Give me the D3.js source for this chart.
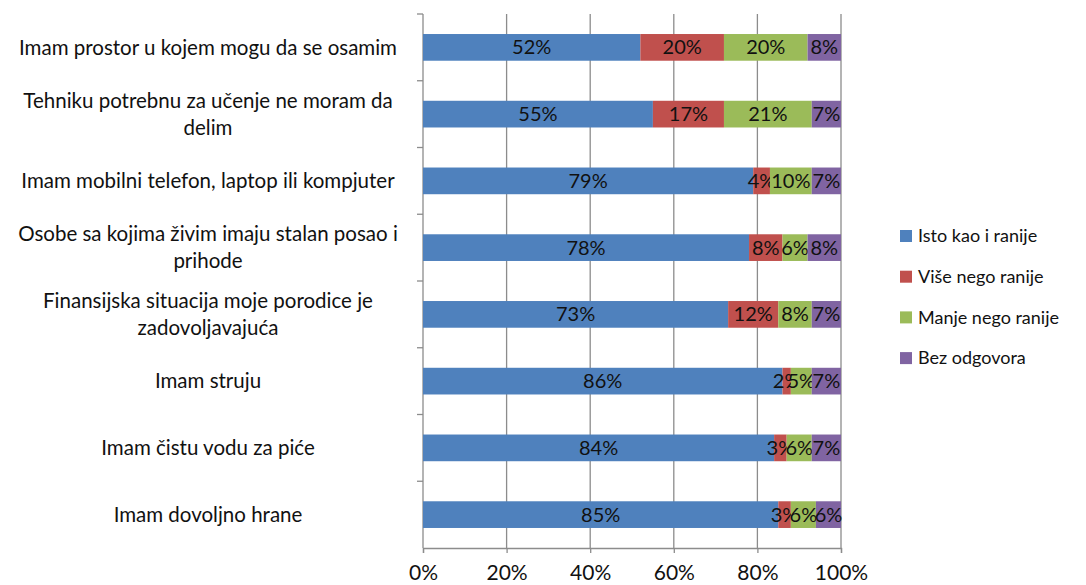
<!DOCTYPE html>
<html>
  <head>
    <meta charset="utf-8">
    <title>Stacked bars</title>
    <script src="https://d3js.org/d3.v7.min.js"></script>
    <style>
      body { margin: 0; background: #fff; }
      text { font-family: Lato, "Open Sans", sans-serif; fill: #111; }
    </style>
  </head>
  <body>
    <div id="chart"></div>
    <script>
      // chart data
      const categories = [
        "Imam prostor u kojem mogu da se osamim",
        "Tehniku potrebnu za učenje ne moram da delim",
        "Imam mobilni telefon, laptop ili kompjuter",
        "Osobe sa kojima živim imaju stalan posao i prihode",
        "Finansijska situacija moje porodice je zadovoljavajuća",
        "Imam struju",
        "Imam čistu vodu za piće",
        "Imam dovoljno hrane"
      ];
      const seriesNames = ["Isto kao i ranije", "Više nego ranije", "Manje nego ranije", "Bez odgovora"];
      const isto = [52, 55, 79, 78, 73, 86, 84, 85];
      const vise = [20, 17, 4, 8, 12, 2, 3, 3];
      const manje = [20, 21, 10, 6, 8, 5, 6, 6];
      const bez = [8, 7, 7, 8, 7, 7, 7, 6];
      const tickValues = [0, 20, 40, 60, 80, 100];
      const colors = ["#4f81bd", "#c0504d", "#9bbb59", "#8064a2"];

      const width = 1086, height = 585;
      const plotLeft = 423, plotRight = 841, plotTop = 14, plotBottom = 548;

      const svg = d3.select("#chart").append("svg")
        .attr("width", width)
        .attr("height", height);

      const x = d3.scaleLinear().domain([0, 100]).range([plotLeft, plotRight]);
      const y = d3.scaleBand().domain(categories).range([plotTop, plotBottom]).paddingInner(0.6).paddingOuter(0.3);
      const yb = d3.scaleBand().domain(categories).range([plotTop, plotBottom]);

      // table for stacking
      const rows = categories.map((c, i) => ({ cat: c, a: isto[i], b: vise[i], c: manje[i], d: bez[i] }));
      const stack = d3.stack().keys(["a", "b", "c", "d"])(rows);

      // vertical gridlines
      svg.append("g")
        .selectAll("line")
        .data(tickValues.slice(1))
        .enter().append("line")
          .attr("x1", d => x(d)).attr("x2", d => x(d))
          .attr("y1", plotTop).attr("y2", plotBottom)
          .attr("stroke", "#8c8c8c").attr("stroke-width", 1.3);

      // x axis
      const xAxis = svg.append("g")
        .attr("transform", "translate(0," + plotBottom + ")")
        .call(d3.axisBottom(x).tickValues(tickValues).tickFormat(d => d + "%").tickSize(5).tickPadding(12));
      xAxis.select(".domain").attr("stroke", "#8c8c8c").attr("stroke-width", 1.3);
      xAxis.selectAll(".tick line").attr("stroke", "#8c8c8c").attr("stroke-width", 1.3);
      xAxis.selectAll("text").style("font-size", "21px").attr("fill", "#111");

      // left axis line with category ticks
      const yAxisG = svg.append("g");
      yAxisG.append("line")
        .attr("x1", plotLeft).attr("x2", plotLeft).attr("y1", plotTop).attr("y2", plotBottom)
        .attr("stroke", "#8c8c8c").attr("stroke-width", 1.3);
      yAxisG.selectAll(".ytick")
        .data(categories)
        .enter().append("line")
          .attr("x1", plotLeft - 6).attr("x2", plotLeft)
          .attr("y1", d => yb(d)).attr("y2", d => yb(d))
          .attr("stroke", "#8c8c8c").attr("stroke-width", 1.3);

      // bars
      const layers = svg.append("g")
        .selectAll("g")
        .data(stack)
        .enter().append("g")
          .attr("fill", (d, i) => colors[i]);
      layers.selectAll("rect")
        .data(d => d)
        .enter().append("rect")
          .attr("x", d => x(d[0]))
          .attr("width", d => x(d[1]) - x(d[0]))
          .attr("y", d => y(d.data.cat))
          .attr("height", y.bandwidth());

      // value labels
      layers.selectAll("text")
        .data(d => d)
        .enter().append("text")
          .attr("x", d => (x(d[0]) + x(d[1])) / 2)
          .attr("y", d => y(d.data.cat) + y.bandwidth() / 2)
          .attr("dy", "0.35em")
          .attr("text-anchor", "middle")
          .attr("fill", "#111")
          .style("font-size", "20px")
          .text(d => (d[1] - d[0]) + "%");

      // category labels, wrapped
      const labels = svg.append("g");
      categories.forEach(c => {
        const t = labels.append("text")
          .attr("text-anchor", "middle")
          .style("font-size", "20.5px");
        const words = c.split(" ");
        let lines = [], line = [];
        words.forEach(w => {
          line.push(w);
          t.text(line.join(" "));
          if (t.node().getComputedTextLength() > 395 && line.length > 1) {
            line.pop();
            lines.push(line.join(" "));
            line = [w];
          }
        });
        lines.push(line.join(" "));
        t.text(null);
        const cy = yb(c) + yb.bandwidth() / 2;
        const lh = 27;
        lines.forEach((l, k) => {
          t.append("tspan")
            .attr("x", 208)
            .attr("y", cy + (k - (lines.length - 1) / 2) * lh)
            .attr("dy", "0.35em")
            .text(l);
        });
      });

      // legend
      const legend = svg.append("g")
        .selectAll("g")
        .data(seriesNames)
        .enter().append("g")
          .attr("transform", (d, i) => "translate(900," + (236 + i * 40.7) + ")");
      legend.append("rect")
        .attr("x", 0).attr("y", -6).attr("width", 12).attr("height", 12)
        .attr("fill", (d, i) => colors[i]);
      legend.append("text")
        .attr("x", 18).attr("dy", "0.35em")
        .style("font-size", "18px")
        .text(d => d);
    </script>
  </body>
</html>
